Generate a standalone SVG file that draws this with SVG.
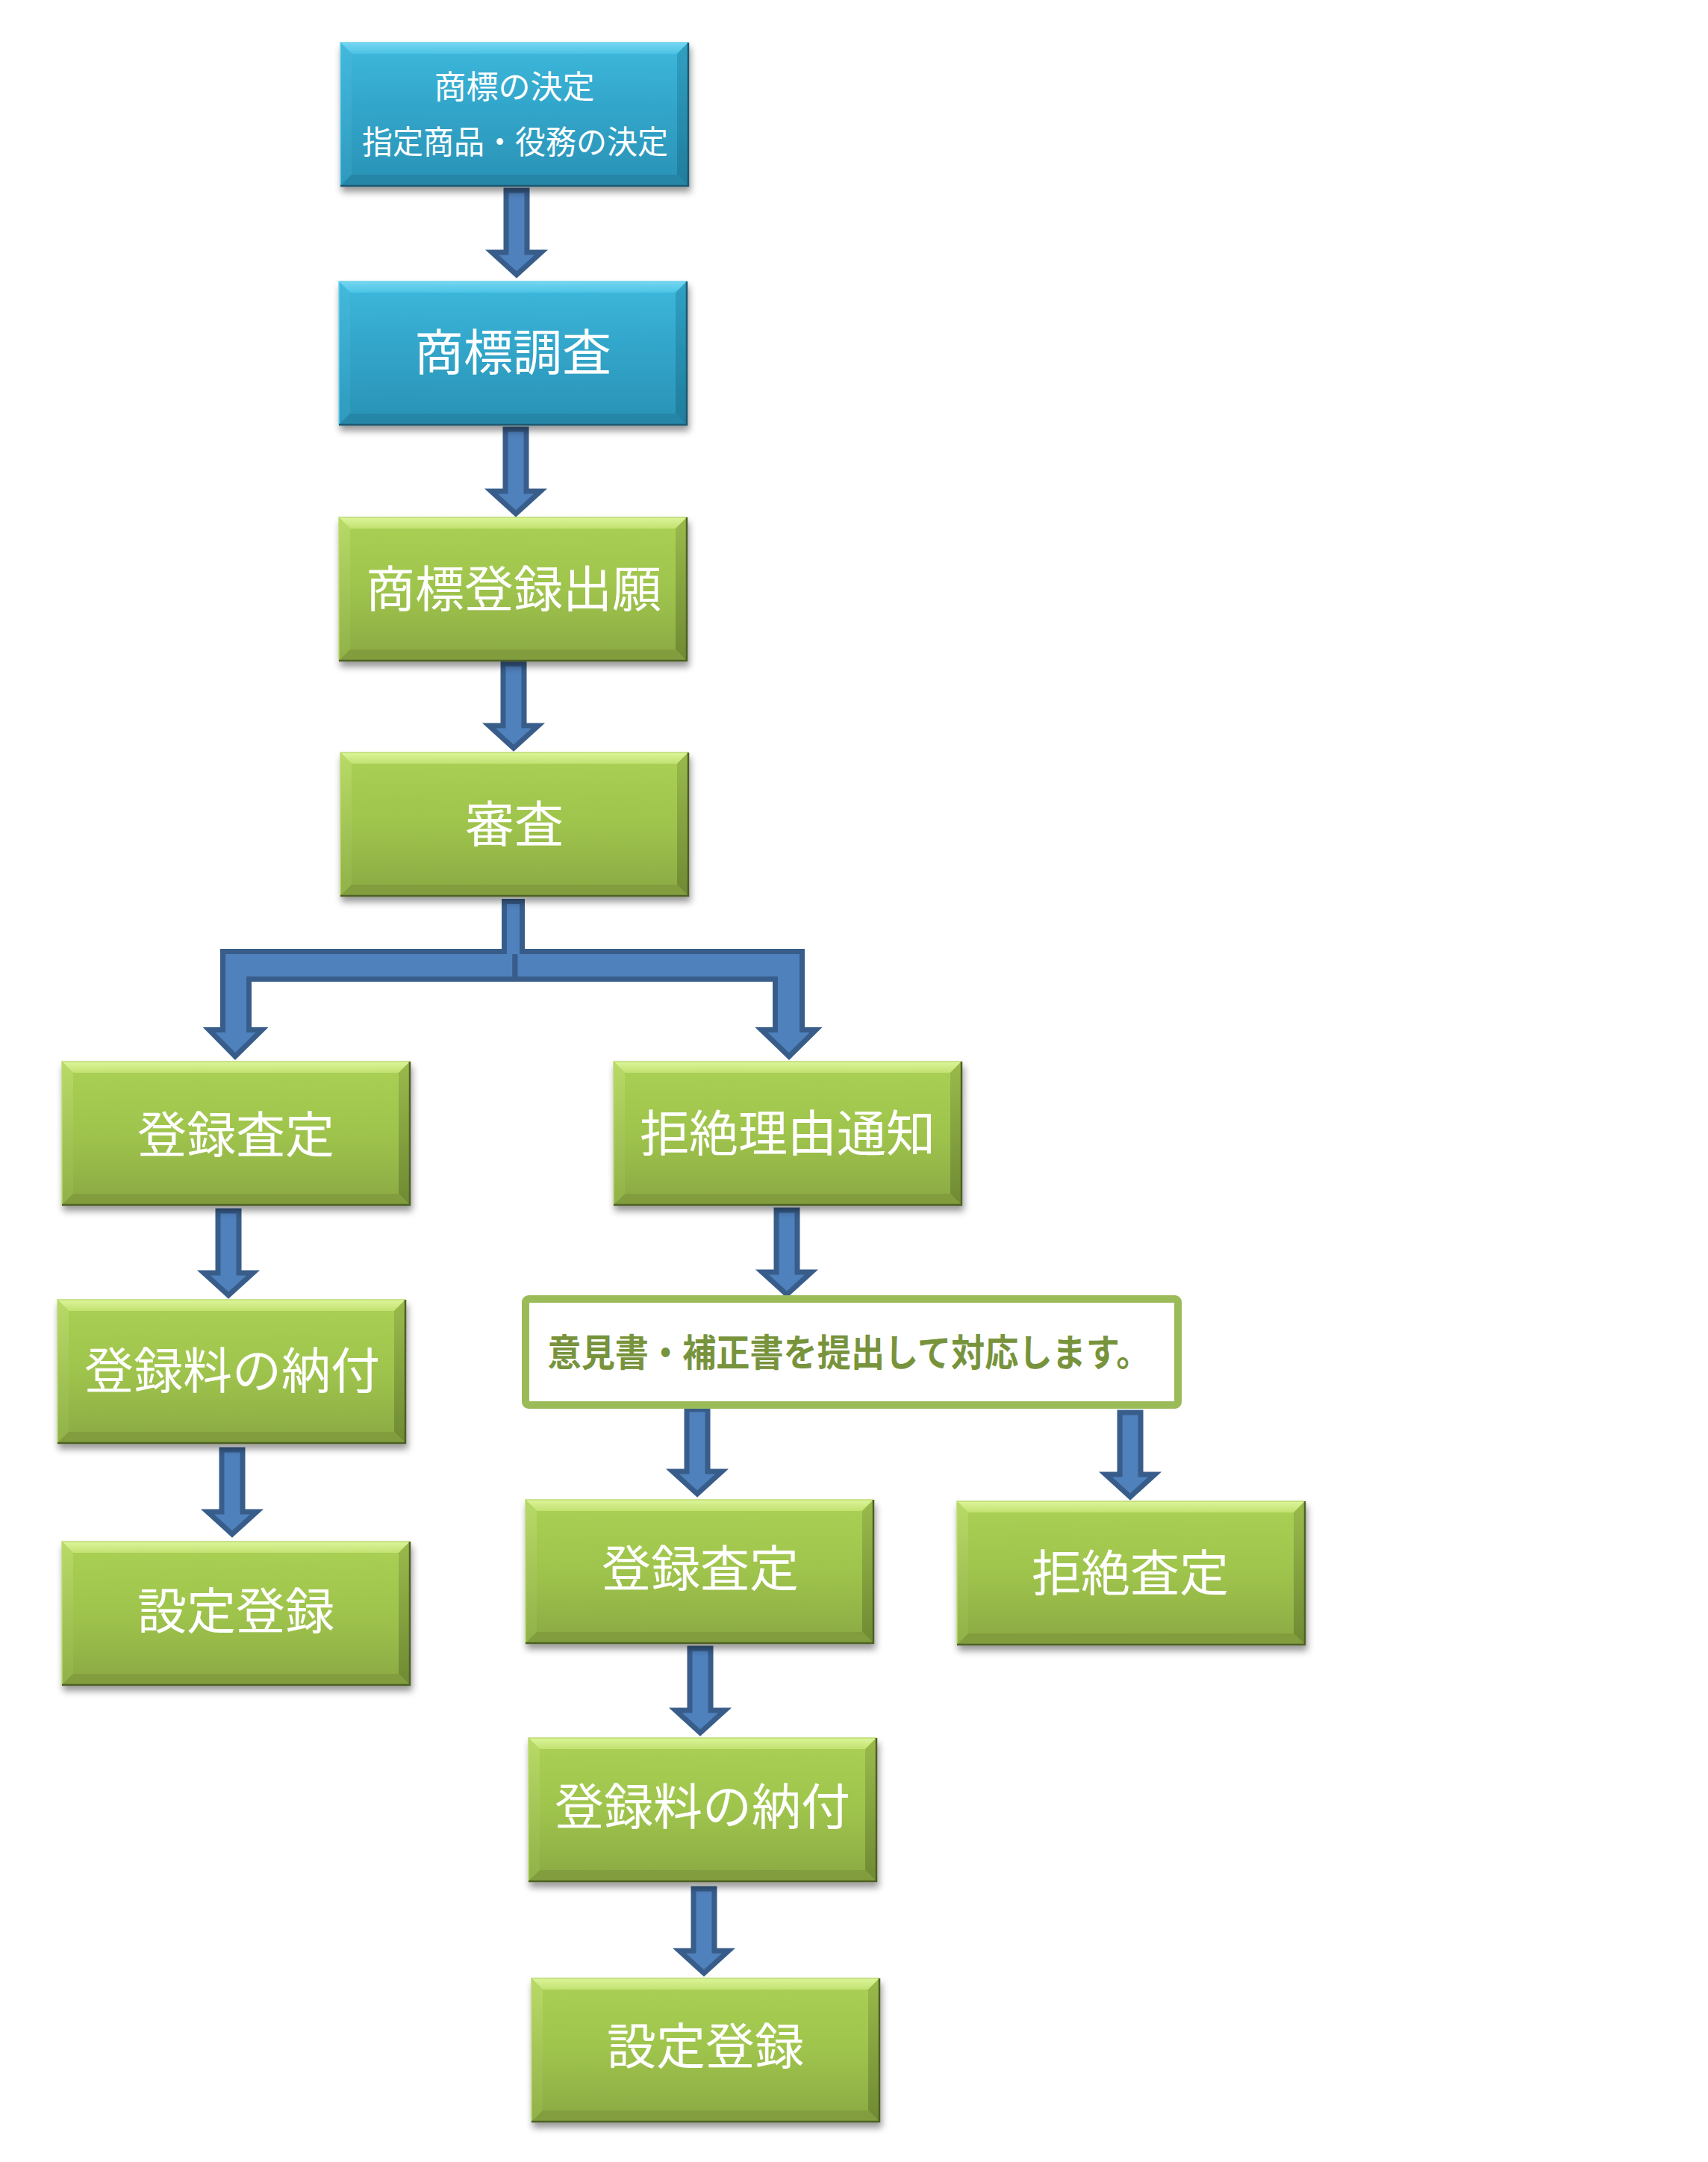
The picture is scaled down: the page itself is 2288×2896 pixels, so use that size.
<svg xmlns="http://www.w3.org/2000/svg" xmlns:xlink="http://www.w3.org/1999/xlink" width="2288" height="2896" viewBox="0 0 2288 2896">
<style>
.lbl{font-family:"Noto Sans CJK JP","Noto Sans CJK SC",sans-serif;fill:#ffffff;text-anchor:middle;dominant-baseline:central}
.big{font-size:66px}
.small{font-size:43px}
.note{font-family:"Noto Sans CJK JP","Noto Sans CJK SC",sans-serif;fill:#77933c;font-weight:bold;font-size:50px;text-anchor:middle;dominant-baseline:central}
.arr{fill:#4f81bd;stroke:#385d8a;stroke-width:7;stroke-linejoin:miter}
</style>
<defs>
<filter id="sh" x="-10%" y="-10%" width="125%" height="135%">
<feDropShadow dx="2" dy="7" stdDeviation="5" flood-color="#000" flood-opacity="0.4"/>
</filter>
<linearGradient id="gFace" x1="0" y1="0" x2="0" y2="1"><stop offset="0" stop-color="#aad054"/><stop offset="0.5" stop-color="#9fc44d"/><stop offset="1" stop-color="#8aa943"/></linearGradient>
<linearGradient id="gTop" x1="0" y1="0" x2="0" y2="1"><stop offset="0" stop-color="#dcf59a"/><stop offset="1" stop-color="#c2e171"/></linearGradient>
<linearGradient id="gLeft" x1="0" y1="0" x2="0" y2="1"><stop offset="0" stop-color="#b8da67"/><stop offset="1" stop-color="#90b148"/></linearGradient>
<linearGradient id="gRight" x1="0" y1="0" x2="0" y2="1"><stop offset="0" stop-color="#9aba4b"/><stop offset="1" stop-color="#6f8a33"/></linearGradient>
<linearGradient id="bFace" x1="0" y1="0" x2="0" y2="1"><stop offset="0" stop-color="#3db8dc"/><stop offset="0.5" stop-color="#31a4c8"/><stop offset="1" stop-color="#2a92b5"/></linearGradient>
<linearGradient id="bTop" x1="0" y1="0" x2="0" y2="1"><stop offset="0" stop-color="#74d6f1"/><stop offset="1" stop-color="#4cc3e5"/></linearGradient>
<linearGradient id="bLeft" x1="0" y1="0" x2="0" y2="1"><stop offset="0" stop-color="#44b9dc"/><stop offset="1" stop-color="#2e9abd"/></linearGradient>
<linearGradient id="bRight" x1="0" y1="0" x2="0" y2="1"><stop offset="0" stop-color="#30a0c3"/><stop offset="1" stop-color="#1f7c9c"/></linearGradient>
<g id="gbox">
<rect width="466" height="192" fill="url(#gFace)"/>
<polygon points="0,0 466,0 451,15 15,15" fill="url(#gTop)"/>
<polygon points="0,0 15,15 15,177 0,192" fill="url(#gLeft)"/>
<polygon points="466,0 466,192 451,177 451,15" fill="url(#gRight)"/>
<polygon points="0,192 15,177 451,177 466,192" fill="#819d3c"/>
<path d="M0,192 V0 H466" fill="none" stroke="#bcdc70" stroke-width="1.5"/>
<path d="M466,0 V192 H0" fill="none" stroke="#4e6127" stroke-width="2.5"/>
</g>
<g id="bbox">
<rect width="466" height="192" fill="url(#bFace)"/>
<polygon points="0,0 466,0 451,15 15,15" fill="url(#bTop)"/>
<polygon points="0,0 15,15 15,177 0,192" fill="url(#bLeft)"/>
<polygon points="466,0 466,192 451,177 451,15" fill="url(#bRight)"/>
<polygon points="0,192 15,177 451,177 466,192" fill="#2886a7"/>
<path d="M0,192 V0 H466" fill="none" stroke="#6fd2ee" stroke-width="1.5"/>
<path d="M466,0 V192 H0" fill="none" stroke="#1b5870" stroke-width="2.5"/>
</g>
<path id="arrow" class="arr" d="M-14,3 L14,3 L14,86 L33,86 L0,116 L-33,86 L-14,86 Z"/>
</defs>
<rect width="2288" height="2896" fill="#ffffff"/>

<g id="connectors">
<use href="#arrow" x="692" y="252"/>
<use href="#arrow" x="691" y="572"/>
<use href="#arrow" x="688" y="886"/>
<path class="arr" d="M690,1274.5 L298.5,1274.5 L298.5,1379.5 L280,1379.5 L315,1415 L351,1379.5 L333.5,1379.5 L333.5,1311.5 L690,1311.5 Z"/>
<path class="arr" d="M690,1274.5 L1074.5,1274.5 L1074.5,1379.5 L1093,1379.5 L1057,1415 L1020,1379.5 L1038.5,1379.5 L1038.5,1311.5 L690,1311.5 Z"/>
<path class="arr" d="M675.5,1278 V1207.5 H699.5 V1278"/>
<use href="#arrow" x="306" y="1619"/>
<use href="#arrow" x="311" y="1939"/>
<use href="#arrow" x="1054" y="1618"/>
<use href="#arrow" x="934" y="1885"/>
<use href="#arrow" x="1514" y="1889"/>
<use href="#arrow" x="938" y="2205"/>
<use href="#arrow" x="943" y="2527"/>
</g>

<g id="n1">
<use href="#bbox" x="456" y="57" filter="url(#sh)"/>
<text class="lbl small" x="689" y="113">商標の決定</text>
<text class="lbl small" x="690" y="187" textLength="410" lengthAdjust="spacingAndGlyphs">指定商品・役務の決定</text>
</g>
<g id="n2">
<use href="#bbox" x="454" y="377" filter="url(#sh)"/>
<text class="lbl big" x="687" y="467">商標調査</text>
</g>
<g id="n3">
<use href="#gbox" x="454" y="693" filter="url(#sh)"/>
<text class="lbl big" x="688" y="784">商標登録出願</text>
</g>
<g id="n4">
<use href="#gbox" x="456" y="1008" filter="url(#sh)"/>
<text class="lbl big" x="689" y="1099">審査</text>
</g>
<g id="n5">
<use href="#gbox" x="83" y="1422" filter="url(#sh)"/>
<text class="lbl big" x="316" y="1515">登録査定</text>
</g>
<g id="n6">
<use href="#gbox" x="77" y="1741" filter="url(#sh)"/>
<text class="lbl big" x="311" y="1831">登録料の納付</text>
</g>
<g id="n7">
<use href="#gbox" x="83" y="2065" filter="url(#sh)"/>
<text class="lbl big" x="316" y="2153">設定登録</text>
</g>
<g id="n8">
<use href="#gbox" x="822" y="1422" filter="url(#sh)"/>
<text class="lbl big" x="1055" y="1513">拒絶理由通知</text>
</g>
<g id="n9">
<rect x="704" y="1740" width="874" height="142" rx="4" fill="#ffffff" stroke="#9bbb59" stroke-width="10"/>
<text class="note" x="1137" y="1808" textLength="807" lengthAdjust="spacingAndGlyphs">意見書・補正書を提出して対応します。</text>
</g>
<g id="n10">
<use href="#gbox" x="704" y="2009" filter="url(#sh)"/>
<text class="lbl big" x="938" y="2096">登録査定</text>
</g>
<g id="n11">
<use href="#gbox" x="1282" y="2011" filter="url(#sh)"/>
<text class="lbl big" x="1514" y="2102">拒絶査定</text>
</g>
<g id="n12">
<use href="#gbox" x="708" y="2328" filter="url(#sh)"/>
<text class="lbl big" x="941" y="2415">登録料の納付</text>
</g>
<g id="n13">
<use href="#gbox" x="712" y="2650" filter="url(#sh)"/>
<text class="lbl big" x="945" y="2736">設定登録</text>
</g>
</svg>
